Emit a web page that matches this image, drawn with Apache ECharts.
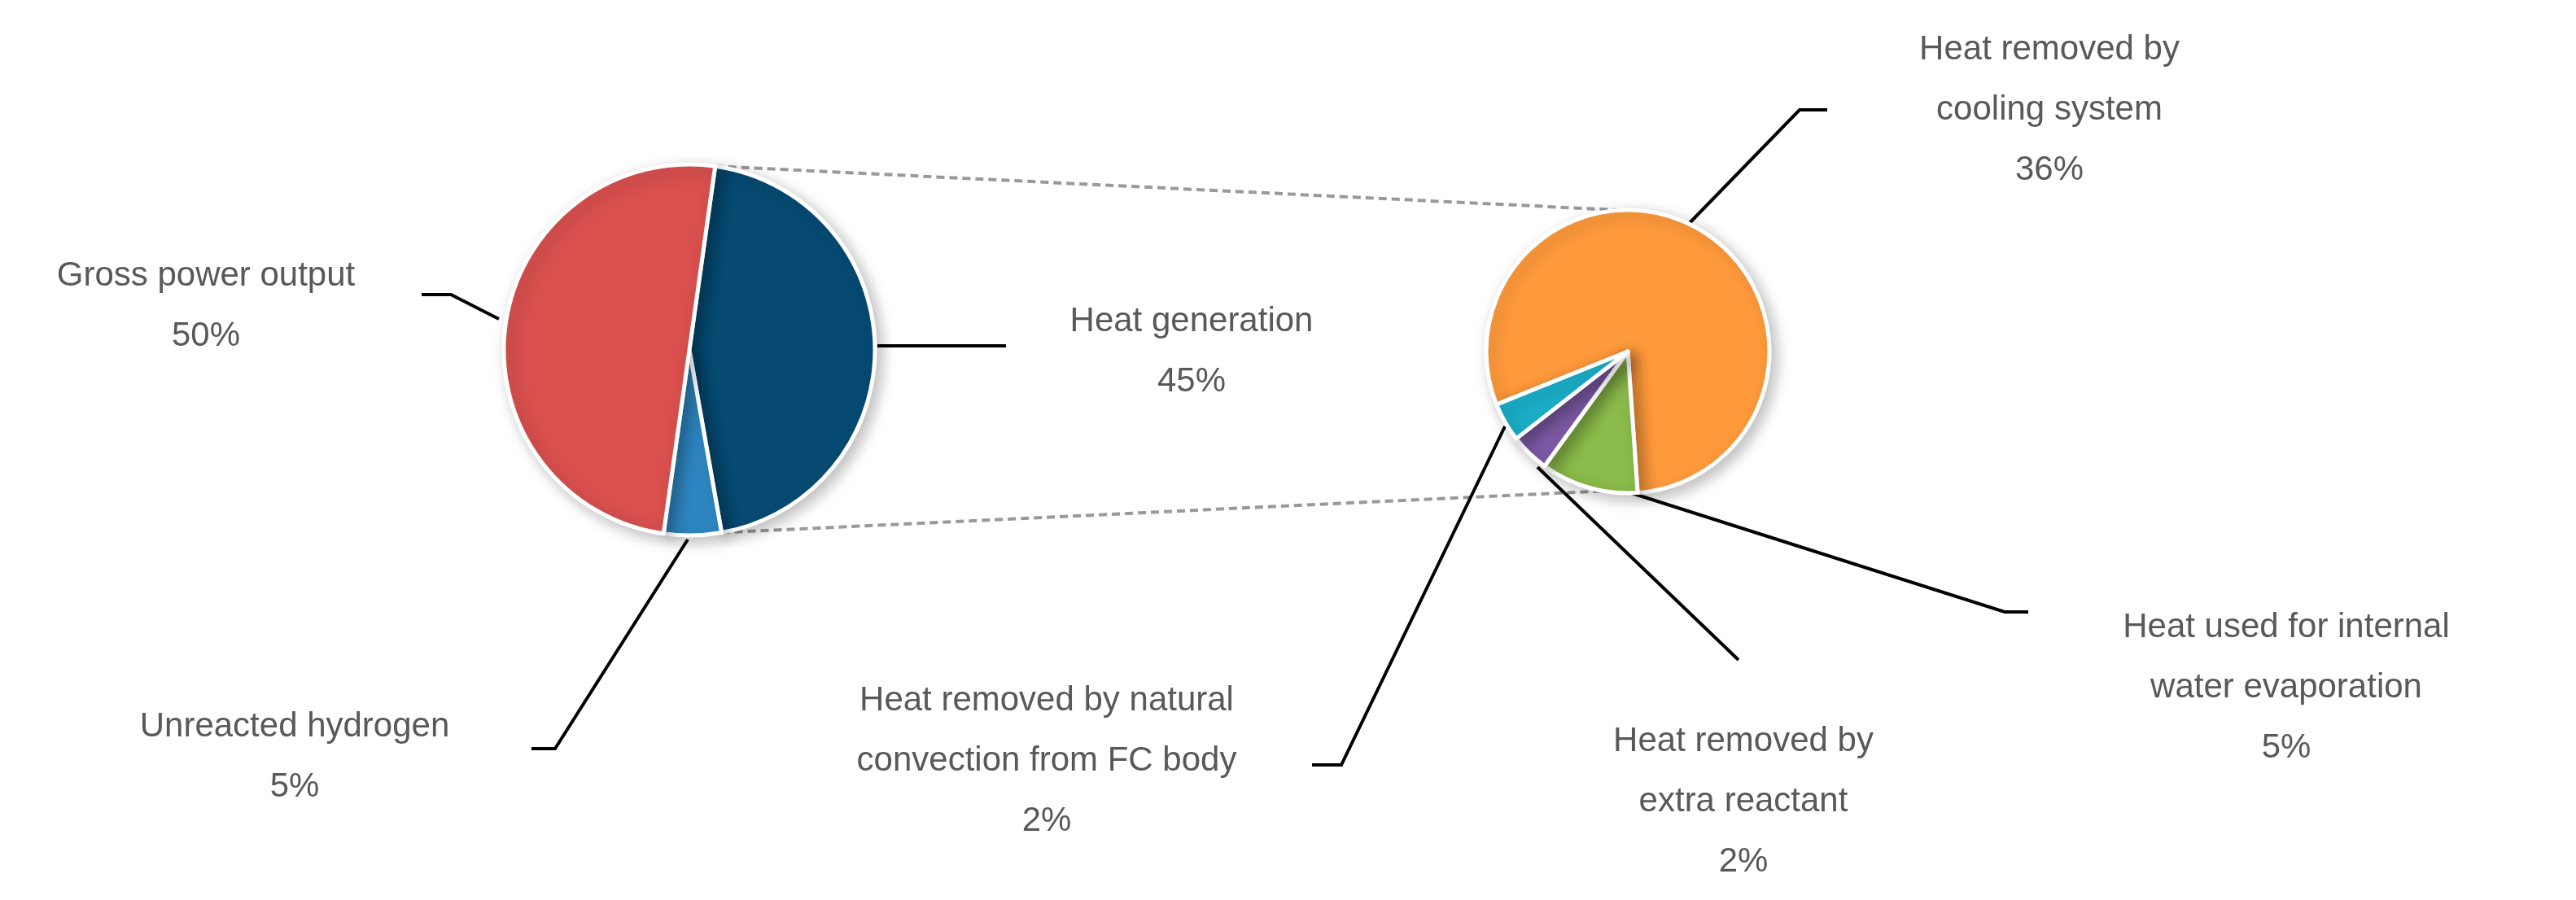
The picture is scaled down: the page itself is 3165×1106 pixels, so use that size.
<!DOCTYPE html>
<html>
<head>
<meta charset="utf-8">
<script src="https://cdn.jsdelivr.net/npm/echarts@6/dist/echarts.min.js"></script>
<style>html,body{margin:0;background:#fff}#chart{width:3165px;height:1106px}</style>
</head>
<body>
<div id="chart"></div>
<script>
const MAIN_LABELS = ['Heat generation', 'Unreacted hydrogen', 'Gross power output'];
const MAIN_VALUES = [45, 5, 50];
const MAIN_COLORS = ['#064A72', '#2E86C1', '#D9504E'];

const HEAT_LABELS = ['Heat removed by\ncooling system', 'Heat used for internal\nwater evaporation', 'Heat removed by\nextra reactant', 'Heat removed by natural\nconvection from FC body'];
const HEAT_VALUES = [36, 5, 2, 2];
const HEAT_COLORS = ['#FF9A3C', '#8BBB4A', '#7E5AA6', '#1AAFC9'];

const FONT = '"Liberation Sans Narrow", "Liberation Sans", sans-serif';
const LEFT = { cx: 847, cy: 430, r: 228, start: 82 };
const RIGHT = { cx: 2000, cy: 432, r: 174, start: 202 };

// label anchor + leader points, pixels
const MAIN_LAYOUT = [
    { x: 1464, y: 432, line: [[1078, 425], [1236, 425], [1236, 425]] },
    { x: 362, y: 930, line: [[845, 663], [682, 920], [653, 920]] },
    { x: 253, y: 376, line: [[613, 392], [554, 362], [518, 362]] },
];
const HEAT_LAYOUT = [
    { x: 2518, y: 135, line: [[2073, 277], [2211, 135], [2245, 135]] },
    { x: 2809, y: 845, line: [[1964, 593], [2463, 752], [2492, 752]] },
    { x: 2142, y: 985, line: [[1889, 574], [2136, 811], [2136, 811]] },
    { x: 1286, y: 935, line: [[1849, 524], [1648, 940], [1612, 940]] },
];

function pieSeries(p, labels, values, colors, layout) {
    return {
        type: 'pie',
        center: [p.cx, p.cy],
        radius: p.r,
        startAngle: p.start,
        clockwise: true,
        silent: true,
        data: labels.map((name, i) => ({ name, value: values[i], itemStyle: { color: colors[i] } })),
        itemStyle: { borderColor: '#fff', borderWidth: 5, shadowBlur: 18, shadowColor: 'rgba(0,0,0,0.25)', shadowOffsetX: 6, shadowOffsetY: 6 },
        label: { show: true, formatter: '{b}\n{c}%', color: '#595959', fontSize: 42, lineHeight: 74, fontFamily: FONT, align: 'center' },
        labelLine: { show: true, lineStyle: { color: '#000', width: 4 } },
        labelLayout: (params) => {
            const l = layout[params.dataIndex];
            return { x: l.x, y: l.y, align: 'center', verticalAlign: 'middle', labelLinePoints: l.line };
        },
    };
}

function edge(p, deg) {
    const a = deg * Math.PI / 180;
    return [p.cx + p.r * Math.cos(a), p.cy - p.r * Math.sin(a)];
}

const c = echarts.init(document.getElementById('chart'), null, { renderer: 'canvas' });
const t1 = edge(LEFT, LEFT.start), t2 = edge(RIGHT, 93);
const b1 = edge(LEFT, LEFT.start - 360 * MAIN_VALUES[0] / 100), b2 = edge(RIGHT, -100);
const dash = { stroke: '#999', lineWidth: 4, lineDash: [10, 6] };
c.setOption({
    animation: false,
    graphic: [
        { type: 'line', z: -1, shape: { x1: t1[0], y1: t1[1], x2: t2[0], y2: t2[1] }, style: dash },
        { type: 'line', z: -1, shape: { x1: b1[0], y1: b1[1], x2: b2[0], y2: b2[1] }, style: dash },
    ],
    series: [
        pieSeries(LEFT, MAIN_LABELS, MAIN_VALUES, MAIN_COLORS, MAIN_LAYOUT),
        pieSeries(RIGHT, HEAT_LABELS, HEAT_VALUES, HEAT_COLORS, HEAT_LAYOUT),
    ],
});
</script>
</body>
</html>
